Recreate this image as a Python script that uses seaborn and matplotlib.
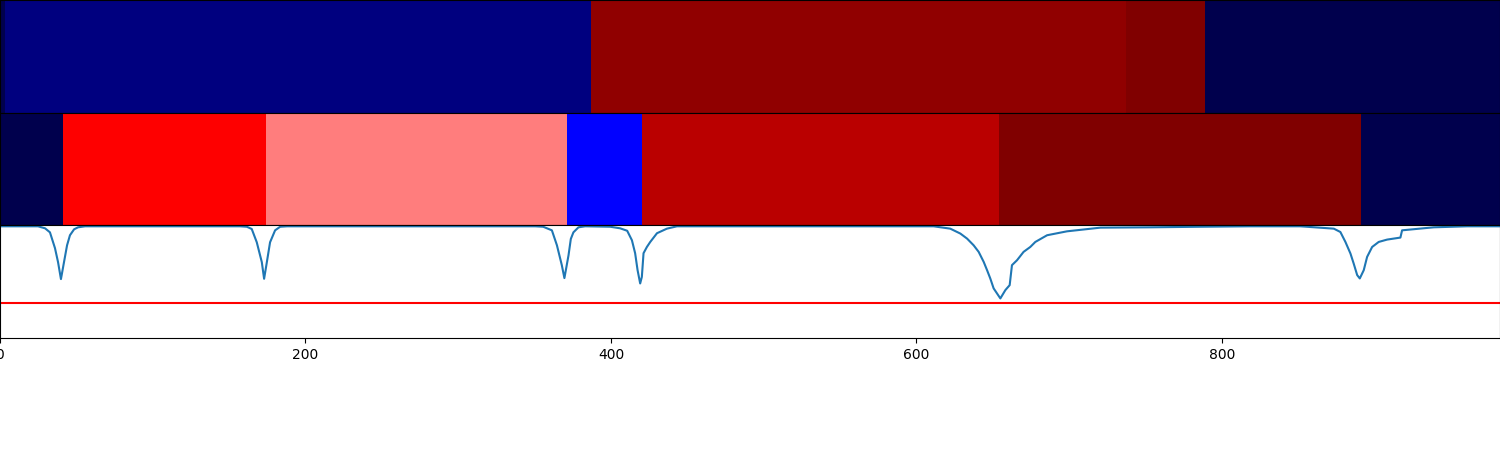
import numpy as np
import seaborn as sns
import matplotlib.pyplot as plt

# Signal length (samples)
N_SAMPLES = 982

# Row 1 segmentation: segment edges and colour values (seismic 0..1)
ROW1_EDGES = [0, 3, 387, 737, 789, 982]
ROW1_VALUES = [0.0, 0.072, 0.967, 1.0, 0.0]

# Row 2 segmentation
ROW2_EDGES = [0, 41, 174, 371, 420, 654, 891, 982]
ROW2_VALUES = [0.0, 0.75, 0.625, 0.25, 0.883, 1.0, 0.0]

# Signal points
SIGNAL_X = [0, 24.9, 29.5, 32.7, 36.0, 38.0, 39.9, 41.9, 43.9, 45.8, 48.5, 51.1, 55.7,
            157.2, 161.6, 164.8, 168.1, 171.4, 172.9, 174.7, 176.8, 180.1, 183.4, 188.0,
            350.4, 355.6, 361.3, 364.6, 367.8, 369.5, 372.2, 373.7, 375.4, 378.7, 383.1,
            399.5, 406.0, 410.6, 413.7, 415.8, 417.4, 419.1, 420.2, 421.3, 423.5, 425.7,
            430.1, 436.6, 443.2,
            589.4, 611.2, 622.1, 628.7, 633.1, 637.4, 640.7, 644.0, 646.2, 648.3, 650.5,
            654.9, 658.2, 661.0, 662.5, 665.8, 670.1, 674.5, 677.8, 685.5, 698.5, 720.4,
            753.1, 785.9, 818.6,
            851.3, 873.2, 877.5, 880.8, 884.1, 886.2, 888.5, 890.2, 892.8, 895.0, 898.3,
            902.6, 908.1, 916.8, 917.9, 938.6, 960.5, 982]
SIGNAL_Y = [1.0, 1.0, 0.982, 0.946, 0.804, 0.679, 0.527, 0.679, 0.830, 0.920, 0.973, 0.991, 1.0,
            1.0, 0.996, 0.976, 0.857, 0.679, 0.530, 0.679, 0.857, 0.964, 0.996, 1.0,
            1.0, 0.996, 0.964, 0.830, 0.652, 0.536, 0.741, 0.887, 0.946, 0.991, 1.0,
            0.996, 0.982, 0.960, 0.875, 0.759, 0.607, 0.488, 0.547, 0.759, 0.815, 0.860,
            0.938, 0.979, 1.0,
            1.0, 1.0, 0.979, 0.935, 0.890, 0.830, 0.771, 0.681, 0.607, 0.533, 0.444,
            0.354, 0.429, 0.473, 0.652, 0.696, 0.771, 0.815, 0.860, 0.920, 0.955, 0.988,
            0.991, 0.996, 1.0,
            1.0, 0.979, 0.949, 0.860, 0.756, 0.667, 0.563, 0.533, 0.607, 0.726, 0.815,
            0.860, 0.881, 0.899, 0.964, 0.991, 1.0, 1.0]

THRESHOLD = 0.31


def segments_to_row(edges, values):
    widths = np.diff(edges)
    return np.repeat(values, widths)[np.newaxis, :]


fig, axes = plt.subplots(3, 1, figsize=(15, 4.5), dpi=100)
fig.subplots_adjust(left=0, right=1, top=1, bottom=0.249, hspace=0)

for ax, edges, values in [(axes[0], ROW1_EDGES, ROW1_VALUES),
                          (axes[1], ROW2_EDGES, ROW2_VALUES)]:
    sns.heatmap(segments_to_row(edges, values), ax=ax, cmap='seismic',
                vmin=0, vmax=1, cbar=False, xticklabels=False, yticklabels=False)
    ax.set_xticks([])
    ax.set_yticks([])
    for s in ax.spines.values():
        s.set_visible(True)
        s.set_color('black')

ax = axes[2]
sns.lineplot(x=SIGNAL_X, y=SIGNAL_Y, ax=ax, color='tab:blue', linewidth=1.5)
ax.axhline(THRESHOLD, color='red', linewidth=1.5)
ax.set_xlim(0, N_SAMPLES)
ax.set_ylim(0, 1.009)
ax.set_yticks([])
ax.set_xticks([0, 200, 400, 600, 800])

fig.savefig('out.png', dpi=100)
